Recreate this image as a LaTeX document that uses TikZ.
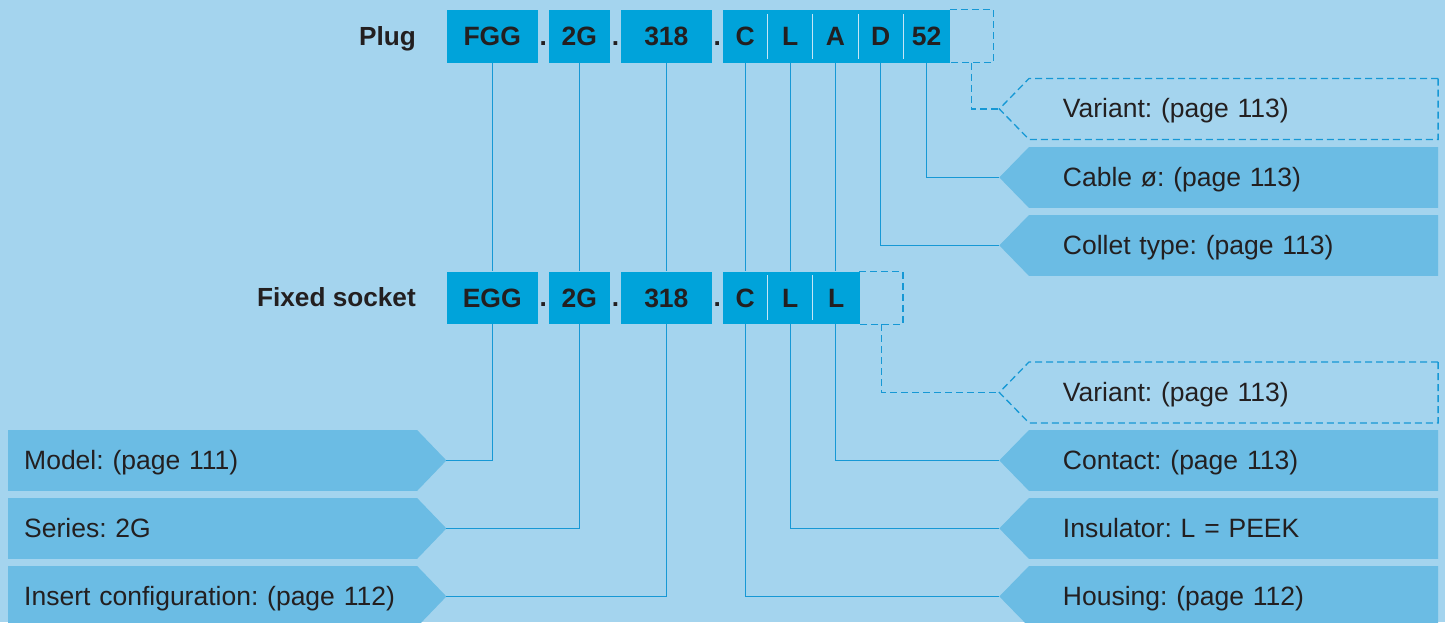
\documentclass[tikz,border=0pt]{standalone}
\usepackage{fontspec}
\setmainfont{Liberation Sans}
\usetikzlibrary{backgrounds}
\definecolor{bgcol}{HTML}{A4D4EE}
\definecolor{codecol}{HTML}{00A3DA}
\definecolor{labcol}{HTML}{6BBCE4}
\definecolor{linecol}{HTML}{1698D5}
\definecolor{divcol}{HTML}{C6E6F6}
\definecolor{txtcol}{HTML}{231F20}
\tikzset{
  codebox/.style={fill=codecol, minimum height=52.5pt, inner sep=0pt, text height=18.4pt, text depth=0pt,
    font=\bfseries\fontsize{26.5}{30}\selectfont, text=txtcol},
  boldtxt/.style={inner sep=0pt, font=\bfseries\fontsize{26.2}{30}\selectfont, text=txtcol},
  hollow/.style={minimum height=52.5pt, inner sep=0pt},
  rlab/.style={anchor=north west, minimum width=408.7pt, minimum height=60.5pt, text width=341.3pt,
    inner xsep=33.7pt, inner ysep=0pt, align=left, text height=18pt, text depth=0pt,
    font=\frenchspacing\fontsize{26.5}{30}\selectfont, text=txtcol},
  llab/.style={anchor=north west, minimum width=408.7pt, minimum height=60.5pt, text width=376.7pt,
    inner xsep=16pt, inner ysep=0pt, align=left, text height=18pt, text depth=0pt,
    font=\frenchspacing\fontsize{26.5}{30}\selectfont, text=txtcol},
  conn/.style={draw=linecol, line width=1.2pt},
  dconn/.style={draw=linecol, line width=1.3pt, dash pattern=on 7pt off 4pt},
  divider/.style={draw=divcol, line width=1pt},
}
\begin{document}
\begin{tikzpicture}[x=1pt,y=-1pt]
\useasboundingbox (0,0) rectangle (1445,622);
% ---- plug row
\node[codebox, minimum width=91pt] (FGG) at (492.2,36.25) {FGG};
\node[codebox, minimum width=60.7pt] (p2G) at (579.35,36.25) {2G};
\node[codebox, minimum width=90.7pt] (p318) at (666.35,36.25) {318};
\node[codebox, minimum width=45pt] (pC) at (745.2,36.25) {C};
\node[codebox, minimum width=45pt] (pL) at (790.2,36.25) {L};
\node[codebox, minimum width=45.3pt] (pA) at (835.35,36.25) {A};
\node[codebox, minimum width=45.3pt] (pD) at (880.65,36.25) {D};
\node[codebox, minimum width=46.7pt] (p52) at (926.65,36.25) {52};
\node[hollow, minimum width=43.3pt] (pVar) at (971.65,36.25) {};
\node[boldtxt, anchor=base] (pd1) at (543.3,45.35) {.};
\node[boldtxt, anchor=base] (pd2) at (615.4,45.35) {.};
\node[boldtxt, anchor=base] (pd3) at (717.2,45.35) {.};
\node[boldtxt, anchor=base east] (plugl) at (416,45.35) {Plug};
% ---- socket row
\node[codebox, minimum width=91pt] (EGG) at (492.2,297.85) {EGG};
\node[codebox, minimum width=60.7pt] (s2G) at (579.35,297.85) {2G};
\node[codebox, minimum width=90.7pt] (s318) at (666.35,297.85) {318};
\node[codebox, minimum width=45pt] (sC) at (745.2,297.85) {C};
\node[codebox, minimum width=45pt] (sL) at (790.2,297.85) {L};
\node[codebox, minimum width=46.9pt] (sL2) at (836.15,297.85) {L};
\node[hollow, minimum width=43.1pt] (sVar) at (881.15,297.85) {};
\node[boldtxt, anchor=base] (sd1) at (543.3,306.95) {.};
\node[boldtxt, anchor=base] (sd2) at (615.4,306.95) {.};
\node[boldtxt, anchor=base] (sd3) at (717.2,306.95) {.};
\node[boldtxt, anchor=base east] (sockl) at (416,306.95) {Fixed socket};
% ---- right labels
\node[rlab] (varA) at (1029,78.5) {Variant: (page 113)};
\node[rlab] (cable) at (1029,147) {Cable ø: (page 113)};
\node[rlab] (collet) at (1029,215) {Collet type: (page 113)};
\node[rlab] (varB) at (1029,362) {Variant: (page 113)};
\node[rlab] (contact) at (1029,430) {Contact: (page 113)};
\node[rlab] (insul) at (1029,498) {Insulator: L = PEEK};
\node[rlab] (housing) at (1029,566) {Housing: (page 112)};
% ---- left labels
\node[llab] (model) at (8,430) {Model: (page 111)};
\node[llab] (series) at (8,498) {Series: 2G};
\node[llab] (insert) at (8,566) {Insert configuration: (page 112)};
% tips
\foreach \n in {varA,cable,collet,varB,contact,insul,housing}
  \coordinate (\n Tip) at ([xshift=-29.7pt]\n.west);
\foreach \n in {model,series,insert}
  \coordinate (\n Tip) at ([xshift=29.3pt]\n.east);
% ---- background layer
\begin{scope}[on background layer]
\fill[bgcol] (0,0) rectangle (1445,622);
\foreach \n in {cable,collet,contact,insul,housing}
  \fill[labcol] (\n.north east) -- (\n.north west) -- (\n Tip) -- (\n.south west) -- (\n.south east) -- cycle;
\foreach \n in {varA,varB}
  \draw[dconn] (\n.north east) -- (\n.north west) -- (\n Tip) -- (\n.south west) -- (\n.south east) -- cycle;
\foreach \n in {model,series,insert}
  \fill[labcol] (\n.north west) -- (\n.north east) -- (\n Tip) -- (\n.south east) -- (\n.south west) -- cycle;
% dashed boxes
\draw[dconn] (pVar.north west) -- (pVar.north east) -- (pVar.south east) -- (pVar.south west);
\draw[dconn] (sVar.north west) -- (sVar.north east) -- (sVar.south east) -- (sVar.south west);
% plug to socket
\draw[conn] (FGG.south) -- (FGG.south |- EGG.north);
\draw[conn] (p2G.south) -- (p2G.south |- s2G.north);
\draw[conn] (p318.south) -- (p318.south |- s318.north);
\draw[conn] (pC.south) -- (pC.south |- sC.north);
\draw[conn] (pL.south) -- (pL.south |- sL.north);
\draw[conn] (pA.south) -- (pA.south |- sL2.north);
% to labels
\draw[conn] (EGG.south) |- (modelTip);
\draw[conn] (s2G.south) |- (seriesTip);
\draw[conn] (s318.south) |- (insertTip);
\draw[conn] (sC.south) |- (housingTip);
\draw[conn] (sL.south) |- (insulTip);
\draw[conn] (pA.south |- sL2.south) |- (contactTip);
\draw[conn] (pD.south) |- (colletTip);
\draw[conn] (p52.south) |- (cableTip);
\draw[dconn] (pVar.south) |- (varATip);
\draw[dconn] (sVar.south) |- (varBTip);
\end{scope}
% dividers
\foreach \n in {pC,pL,pA,pD,sC,sL}
  \draw[divider] ([yshift=-4pt]\n.north east) -- ([yshift=4pt]\n.south east);
\end{tikzpicture}
\end{document}
